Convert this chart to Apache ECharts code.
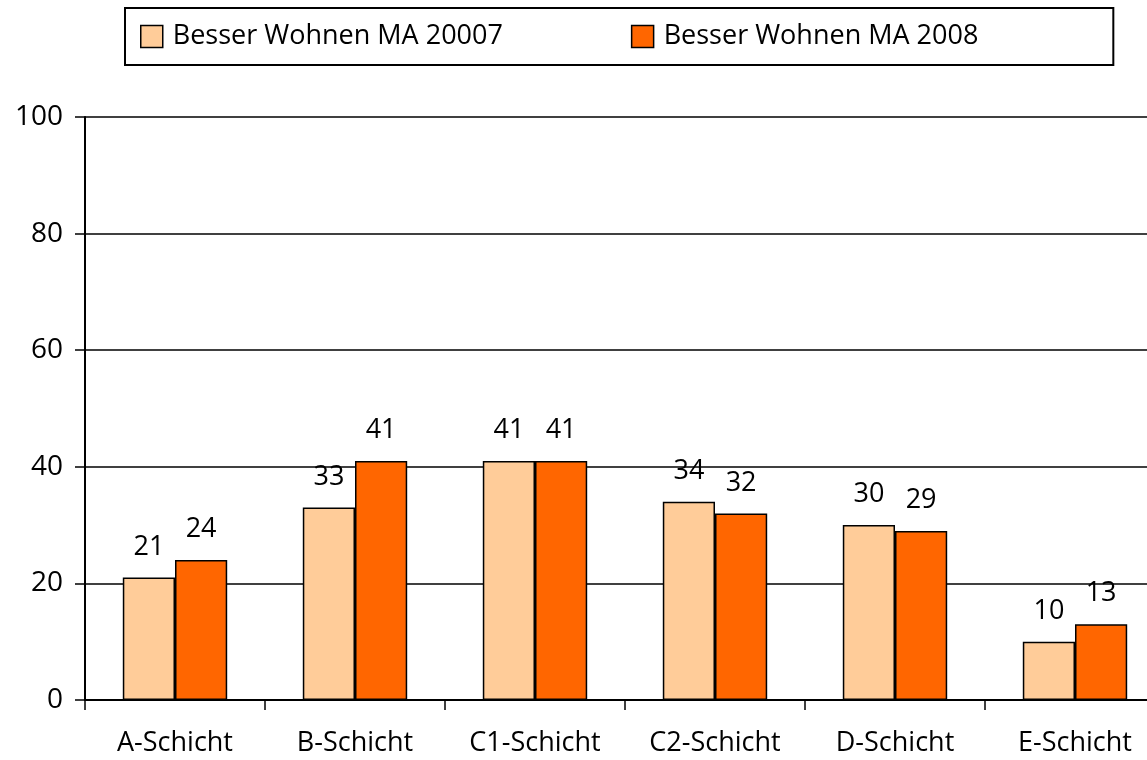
<!DOCTYPE html>
<html>
<head>
<meta charset="utf-8">
<script src="https://cdn.jsdelivr.net/npm/echarts@6/dist/echarts.min.js"></script>
<style>
  html, body { margin: 0; padding: 0; background: #fff; }
  #chart { width: 1147px; height: 760px; }
</style>
</head>
<body>
<div id="chart"></div>
<script>
var categories = ['A-Schicht', 'B-Schicht', 'C1-Schicht', 'C2-Schicht', 'D-Schicht', 'E-Schicht'];
var seriesNames = ['Besser Wohnen MA 20007', 'Besser Wohnen MA 2008'];
var values2007 = [21, 33, 41, 34, 30, 10];
var values2008 = [24, 41, 41, 32, 29, 13];

var fontFamily = '"Open Sans", "Noto Sans", sans-serif';
var fontColor = '#000';

var myChart = echarts.init(document.getElementById('chart'));

function barSeries(name, data, color) {
    return {
        name: name,
        type: 'bar',
        data: data,
        barGap: 0,
        barCategoryGap: '42%',
        itemStyle: { color: color, borderColor: '#000', borderWidth: 1.5 },
        label: {
            show: true,
            position: 'top',
            distance: 17,
            color: fontColor,
            fontSize: 27,
            fontFamily: fontFamily
        }
    };
}

var option = {
    animation: false,
    backgroundColor: '#fff',
    legend: {
        left: 125,
        top: 8,
        padding: [15, 135, 15, 15],
        itemGap: 128,
        itemWidth: 22,
        itemHeight: 22,
        borderColor: '#000',
        borderWidth: 2,
        icon: 'rect',
        textStyle: { color: fontColor, fontSize: 27, fontFamily: fontFamily, padding: [0, 0, 0, 5] },
        itemStyle: { borderColor: '#000', borderWidth: 1.5 },
        data: seriesNames
    },
    grid: { left: 85, top: 117, bottom: 60, width: 1080, outerBoundsMode: 'none', containLabel: false },
    xAxis: {
        type: 'category',
        data: categories,
        axisLine: { lineStyle: { color: '#000', width: 2 } },
        axisTick: { show: true, length: 10, lineStyle: { color: '#000', width: 1.5 } },
        axisLabel: { color: fontColor, fontSize: 27, fontFamily: fontFamily, margin: 30 }
    },
    yAxis: {
        type: 'value',
        min: 0,
        max: 100,
        interval: 20,
        axisLine: { show: true, lineStyle: { color: '#000', width: 2 } },
        axisTick: { show: true, length: 10, lineStyle: { color: '#000', width: 1.5 } },
        axisLabel: { color: fontColor, fontSize: 28, fontFamily: fontFamily, margin: 22 },
        splitLine: { lineStyle: { color: '#000', width: 1.5 } }
    },
    series: [
        barSeries(seriesNames[0], values2007, '#FFCC99'),
        barSeries(seriesNames[1], values2008, '#FF6600')
    ]
};
myChart.setOption(option);
</script>
</body>
</html>
